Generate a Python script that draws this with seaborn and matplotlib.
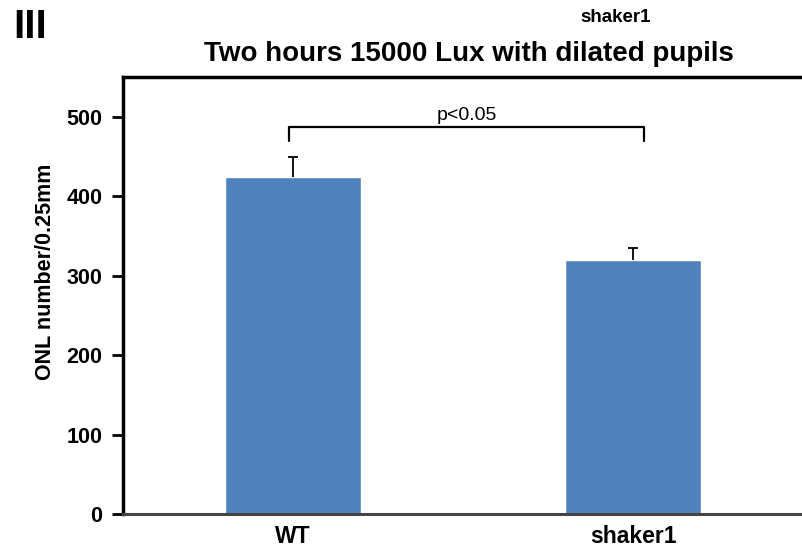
import pandas as pd
import numpy as np
import matplotlib
matplotlib.use("Agg")
import matplotlib.pyplot as plt
import seaborn as sb

# Datos
grupos = ['WT', 'shaker1']
onl_media = [424, 320]
onl_error = [25, 15]   # solo barra de error positiva (estilo Excel)

sb.set_style('white')
plt.rcParams['font.family'] = ['Liberation Sans', 'DejaVu Sans']
plt.rcParams['font.weight'] = 'bold'
plt.rcParams['text.color'] = 'black'
plt.rcParams['axes.labelcolor'] = 'black'
plt.rcParams['xtick.color'] = 'black'
plt.rcParams['ytick.color'] = 'black'

df = pd.DataFrame({'grupo': grupos, 'onl': onl_media})

fig = plt.figure(figsize=(8.03, 5.51), dpi=100)
ax = fig.add_axes([123/803, 37/551, 1 - 123/803, (514 - 77)/551])

sb.barplot(data=df, x='grupo', y='onl', color='#4F81BD', width=0.40,
           saturation=1, ax=ax, errorbar=None)

# Barras de error (solo hacia arriba, con un solo "cap")
x = np.arange(len(grupos))
topo = np.array(onl_media) + np.array(onl_error)
ax.vlines(x, onl_media, topo, color='black', lw=1.3, zorder=3)
ax.hlines(topo, x - 0.014, x + 0.014, color='black', lw=1.3, zorder=3)

# Corchete de significancia
y_br = 487
ax.plot([-0.012, -0.012, 1.032, 1.032], [469, y_br, y_br, 470], color='black', lw=1.6)
ax.text(0.51, y_br + 4, 'p<0.05', ha='center', va='bottom', fontsize=14,
        fontweight='normal')

ax.set_ylim(0, 550)
ax.set_xlim(-0.5, 1.5)
ax.set_yticks([0, 100, 200, 300, 400, 500])
ax.tick_params(axis='y', direction='out', length=8, width=2, labelsize=15.5, left=True, pad=7)
ax.tick_params(axis='x', length=0, labelsize=16.5, pad=8)
ax.set_xlabel('')
ax.set_ylabel('ONL number/0.25mm', fontsize=15.5, fontweight='bold')
ax.yaxis.set_label_coords(-0.099, 0.554)

for lado in ['left', 'top']:
    ax.spines[lado].set_linewidth(2.5)
    ax.spines[lado].set_color('black')
ax.spines['bottom'].set_linewidth(2.2)
ax.spines['bottom'].set_color('#444444')
ax.spines['right'].set_visible(False)

fig.text(469/803, 1 - 61/551, 'Two hours 15000 Lux with dilated pupils',
         ha='center', va='baseline', fontsize=20, fontweight='bold')
fig.text(616/803, 1 - 22/551, 'shaker1', ha='center', va='baseline',
         fontsize=13.5, fontweight='bold')
fig.text(13/803, 1 - 38/551, 'III', ha='left', va='baseline',
         fontsize=29, fontweight='bold')

fig.savefig('out.png', dpi=100)
